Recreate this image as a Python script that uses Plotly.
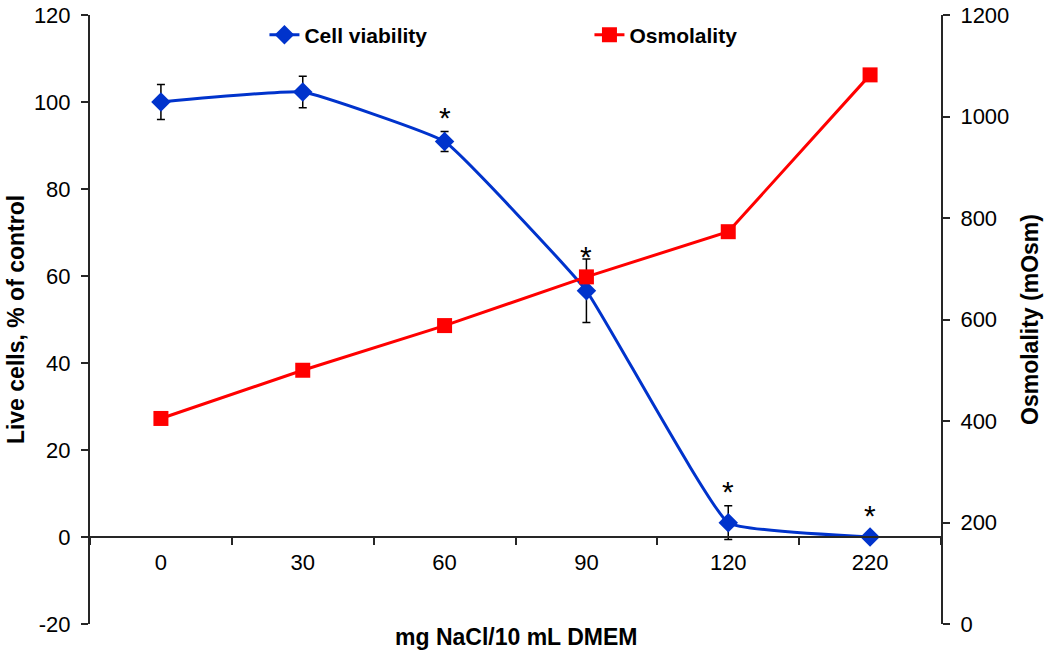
import plotly.graph_objects as go

# ---- data ----
categories = ["0", "30", "60", "90", "120", "220"]
viability = [100.0, 102.3, 90.9, 56.6, 3.3, 0.0]
viability_err = [4.0, 3.6, 2.3, 7.3, 3.9, 0.0]
osmolality = [405, 500, 588, 684, 773, 1082]
sig_categories = ["60", "90", "120", "220"]
sig_label_y = [97.0, 65.0, 11.0, 5.5]
left_ticks = [-20, 0, 20, 40, 60, 80, 100, 120]
left_ticktext = ["-20", "0", "20", "40", "60", "80", "100", "120"]
right_ticks = [0, 200, 400, 600, 800, 1000, 1200]

FONT = "Liberation Sans, Arial, sans-serif"
AXIS_COLOR = "#262626"
YMIN, YMAX = -20, 120

fig = go.Figure()

fig.add_trace(go.Scatter(
    x=categories, y=viability, name="Cell viability",
    mode="lines+markers",
    line=dict(color="#0033CC", width=3, shape="spline", smoothing=0.3),
    marker=dict(symbol="diamond", size=15, color="#0033CC"),
    error_y=dict(type="data", array=viability_err, visible=True,
                 color="black", thickness=1.5, width=4),
    yaxis="y",
))

fig.add_trace(go.Scatter(
    x=categories, y=osmolality, name="Osmolality",
    mode="lines+markers",
    line=dict(color="#FF0000", width=3),
    marker=dict(symbol="square", size=15, color="#FF0000"),
    yaxis="y2",
))

for c, yv in zip(sig_categories, sig_label_y):
    fig.add_annotation(x=categories.index(c), y=yv, xref="x", yref="y", text="*",
                       showarrow=False, yanchor="middle", yshift=-2,
                       font=dict(family=FONT, size=30, color="black"))

zero_pos = (0 - YMIN) / (YMAX - YMIN)

fig.update_layout(
    width=1050, height=655,
    margin=dict(l=90, r=109, t=15, b=31, autoexpand=False),
    plot_bgcolor="white", paper_bgcolor="white",
    font=dict(family=FONT, size=22, color="black"),
    showlegend=True,
    legend=dict(orientation="h", x=0.205, y=0.967, xanchor="left", yanchor="middle",
                font=dict(family=FONT, size=21, color="black", weight="bold"),
                entrywidth=280, entrywidthmode="pixels",
                bgcolor="rgba(0,0,0,0)", itemclick=False),
    xaxis=dict(
        type="category", range=[-0.5, 5.5],
        anchor="free", position=zero_pos, automargin=False,
        showline=True, linecolor=AXIS_COLOR, linewidth=2,
        ticks="outside", ticklen=7, tickwidth=2, tickcolor=AXIS_COLOR,
        tickson="boundaries",
        showgrid=False, zeroline=False,
        tickfont=dict(size=22),
        ticklabelstandoff=6,
    ),
    yaxis=dict(
        range=[YMIN, YMAX], tickvals=left_ticks, ticktext=left_ticktext,
        automargin=False, ticklabeloverflow="allow",
        showline=True, linecolor=AXIS_COLOR, linewidth=2,
        ticks="outside", ticklen=7, tickwidth=2, tickcolor=AXIS_COLOR,
        showgrid=False, zeroline=False,
        tickfont=dict(size=22),
        ticklabelstandoff=6,
        title=dict(text="Live cells, % of control",
                   font=dict(size=23, weight="bold"), standoff=3),
    ),
    yaxis2=dict(
        range=[0, 1200], tickvals=right_ticks,
        automargin=False, ticklabeloverflow="allow",
        overlaying="y", side="right",
        showline=True, linecolor=AXIS_COLOR, linewidth=2,
        ticks="outside", ticklen=7, tickwidth=2, tickcolor=AXIS_COLOR,
        showgrid=False, zeroline=False,
        tickfont=dict(size=22),
        ticklabelstandoff=6,
        title=dict(text="Osmolality (mOsm)",
                   font=dict(size=23, weight="bold"), standoff=14),
    ),
)

fig.add_annotation(x=0.5, y=0, xref="paper", yref="paper", yshift=-13,
                   text="mg NaCl/10 mL DMEM", showarrow=False, yanchor="middle",
                   font=dict(family=FONT, size=23, color="black", weight="bold"))

fig.write_html("out.html", config={"displayModeBar": False},
               post_script="document.body.style.margin='0';document.body.style.overflow='hidden';")
